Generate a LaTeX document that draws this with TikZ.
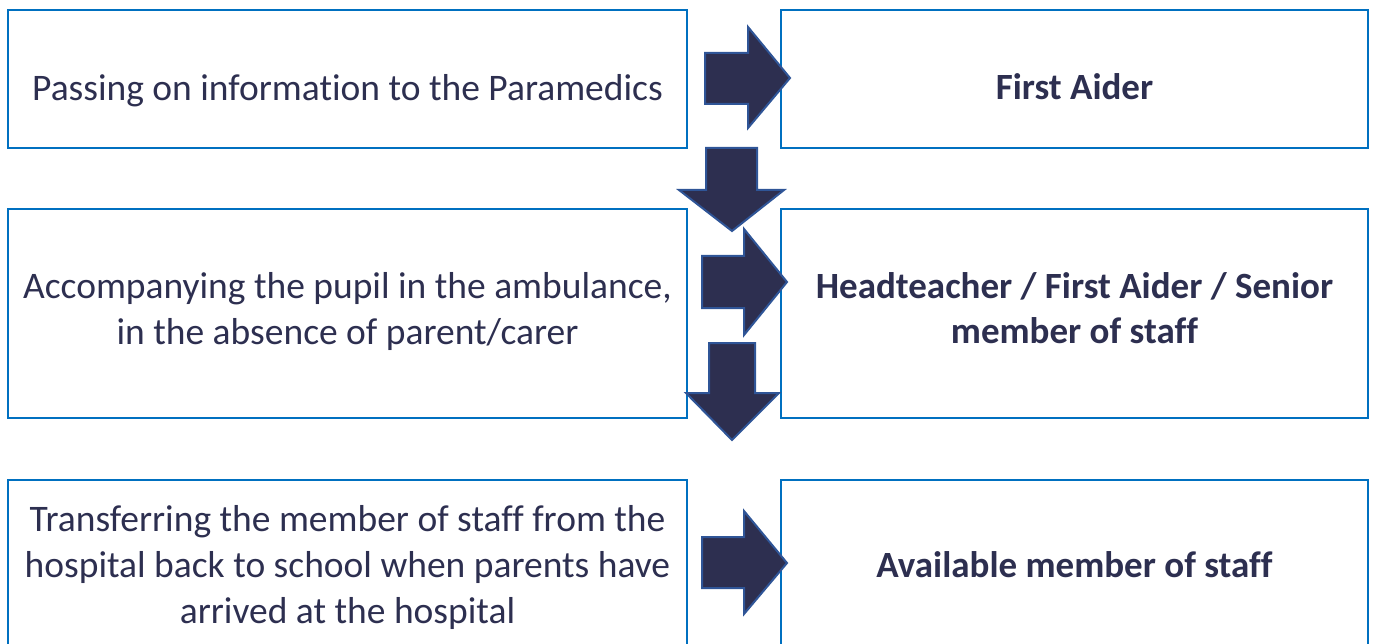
\documentclass[tikz,border=0pt]{standalone}
\usepackage{fontspec}
\setmainfont[Ligatures=NoCommon]{Carlito}
\definecolor{boxblue}{HTML}{0070C0}
\definecolor{navy}{HTML}{2D2F50}
\definecolor{arrowedge}{HTML}{2F5597}
\begin{document}
\begin{tikzpicture}[x=1pt,y=-1pt,
  box/.style={draw=boxblue,line width=2.2pt,inner sep=0pt,align=center,text=navy,
    font=\fontsize{37.5}{46}\selectfont},
  boldbox/.style={box,font=\fontsize{37}{45}\selectfont\bfseries},
  blockarrow/.style={fill=navy,draw=arrowedge,line width=2pt,line join=miter}]
\useasboundingbox (0,0) rectangle (1375,644);
\clip (0,0) rectangle (1375,644);
% boxes
\node[box,minimum width=679pt,minimum height=138pt] (b1l) at (347.5,79) {};
\node[boldbox,minimum width=587pt,minimum height=138pt] (b1r) at (1074.5,79) {};
\node[box,minimum width=679pt,minimum height=209pt] (b2l) at (347.5,313.5) {};
\node[boldbox,minimum width=587pt,minimum height=209pt] (b2r) at (1074.5,313.5) {};
\node[box,minimum width=679pt,minimum height=170pt] (b3l) at (347.5,565) {};
\node[boldbox,minimum width=587pt,minimum height=170pt] (b3r) at (1074.5,565) {};
% texts
\node[box,draw=none] (t1l) at (347.5,91) {Passing on information to the Paramedics};
\node[boldbox,draw=none] (t1r) at (1074.5,87) {First Aider};
\node[box,draw=none] (t2l) at (347.5,311.5) {Accompanying the pupil in the ambulance,\\in the absence of parent/carer};
\node[boldbox,draw=none] (t2r) at (1074.5,308.5) {Headteacher / First Aider / Senior\\member of staff};
\node[box,draw=none] (t3l) at (347.5,567) {Transferring the member of staff from the\\hospital back to school when parents have\\arrived at the hospital};
\node[boldbox,draw=none] (t3r) at (1074.5,565) {Available member of staff};
% block arrows
\draw[blockarrow] (705,53) -- (748,53) -- (748,27) -- (790,78) -- (748,128) -- (748,104) -- (705,104) -- cycle;
\draw[blockarrow] (706,148) -- (757,148) -- (757,190) -- (784,190) -- (732,231) -- (679,190) -- (706,190) -- cycle;
\draw[blockarrow] (702,256) -- (744,256) -- (744,229) -- (787,282) -- (744,335) -- (744,308) -- (702,308) -- cycle;
\draw[blockarrow] (709,343) -- (755,343) -- (755,393) -- (779,393) -- (732,440) -- (686,393) -- (709,393) -- cycle;
\draw[blockarrow] (702,537) -- (744,537) -- (744,511) -- (787,563) -- (744,614) -- (744,588) -- (702,588) -- cycle;
\end{tikzpicture}
\end{document}
